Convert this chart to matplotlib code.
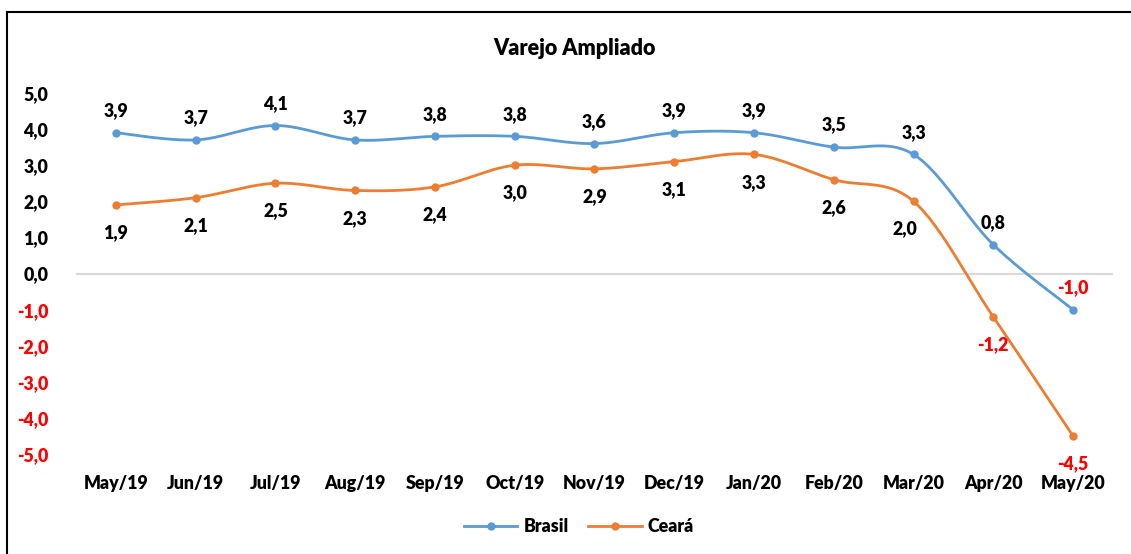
import numpy as np
import matplotlib.pyplot as plt
from matplotlib.patches import Rectangle

plt.rcParams['font.family'] = ['Lato', 'DejaVu Sans']
plt.rcParams['font.weight'] = 'bold'

months = ["May/19", "Jun/19", "Jul/19", "Aug/19", "Sep/19", "Oct/19", "Nov/19",
          "Dec/19", "Jan/20", "Feb/20", "Mar/20", "Apr/20", "May/20"]
brasil = [3.9, 3.7, 4.1, 3.7, 3.8, 3.8, 3.6, 3.9, 3.9, 3.5, 3.3, 0.8, -1.0]
ceara = [1.9, 2.1, 2.5, 2.3, 2.4, 3.0, 2.9, 3.1, 3.3, 2.6, 2.0, -1.2, -4.5]
yticks = [5, 4, 3, 2, 1, 0, -1, -2, -3, -4, -5]

BLUE = "#5B9BD5"
ORANGE = "#ED7D31"
RED = "#FF0000"
FS = 12.8
W = "heavy"


# excel-like smoothed line (catmull-rom between the points)
def smooth(x, y, n=30):
    x = np.asarray(x, float)
    y = np.asarray(y, float)
    px = np.concatenate([[x[0]], x, [x[-1]]])
    py = np.concatenate([[y[0]], y, [y[-1]]])
    xs, ys = [], []
    t = np.linspace(0, 1, n)
    for i in range(1, len(px) - 2):
        c1x = px[i] + (px[i + 1] - px[i - 1]) / 6
        c1y = py[i] + (py[i + 1] - py[i - 1]) / 6
        c2x = px[i + 1] - (px[i + 2] - px[i]) / 6
        c2y = py[i + 1] - (py[i + 2] - py[i]) / 6
        bx = (1 - t)**3 * px[i] + 3 * (1 - t)**2 * t * c1x + 3 * (1 - t) * t**2 * c2x + t**3 * px[i + 1]
        by = (1 - t)**3 * py[i] + 3 * (1 - t)**2 * t * c1y + 3 * (1 - t) * t**2 * c2y + t**3 * py[i + 1]
        xs.append(bx)
        ys.append(by)
    return np.concatenate(xs), np.concatenate(ys)


fig = plt.figure(figsize=(11.31, 5.54), dpi=100)
ax = fig.add_axes([0.0672, 0.1805, 0.9168, 0.6516])

x = np.arange(len(months))
ax.axhline(0, color="#D9D9D9", lw=1.5, zorder=1)

for vals, col, name in [(brasil, BLUE, "Brasil"), (ceara, ORANGE, "Ceará")]:
    sx, sy = smooth(x, vals)
    ax.plot(sx, sy, color=col, lw=2, zorder=2)
    ax.plot(x, vals, "o", color=col, ms=5, zorder=3)
    ax.plot([], [], "-o", color=col, lw=2, ms=5, label=name)

def fmt(v):
    return f"{v:.1f}".replace(".", ",")

for i, v in enumerate(brasil):
    ax.annotate(fmt(v), (i, v), xytext=(0, 16), textcoords="offset points",
                ha="center", va="center", fontsize=FS, fontweight=W,
                color=RED if v < 0 else "black")
for i, v in enumerate(ceara):
    dx = -6 if i == 10 else 0
    ax.annotate(fmt(v), (i, v), xytext=(dx, -20), textcoords="offset points",
                ha="center", va="center", fontsize=FS, fontweight=W,
                color=RED if v < 0 else "black")

ax.set_xlim(-0.5, len(months) - 0.5)
ax.set_ylim(-5, 5)
ax.set_xticks(x)
ax.set_xticklabels(months, fontsize=FS, fontweight=W)
ax.set_yticks(yticks)
ax.set_yticklabels([fmt(v) for v in yticks], fontsize=FS, fontweight=W)
for lab, v in zip(ax.get_yticklabels(), yticks):
    if v < 0:
        lab.set_color(RED)
ax.tick_params(length=0, axis="both")
ax.tick_params(axis="x", pad=15)
ax.tick_params(axis="y", pad=20)
for s in ax.spines.values():
    s.set_visible(False)

fig.text(0.508, 0.913, "Varejo Ampliado", ha="center", va="center",
         fontsize=15.5, fontweight=W)
leg = fig.legend(loc="center", bbox_to_anchor=(0.512, 0.05), ncol=2, frameon=False,
                 handlelength=3.0, handletextpad=0.35, columnspacing=1.1,
                 prop={"size": FS, "weight": W})

fig.patches.append(Rectangle((7 / 1131, -0.01), 1.1, 1 - 12 / 554 + 0.01,
                             transform=fig.transFigure, fill=False,
                             edgecolor="black", lw=1.5))

plt.savefig("out.png", dpi=100)
